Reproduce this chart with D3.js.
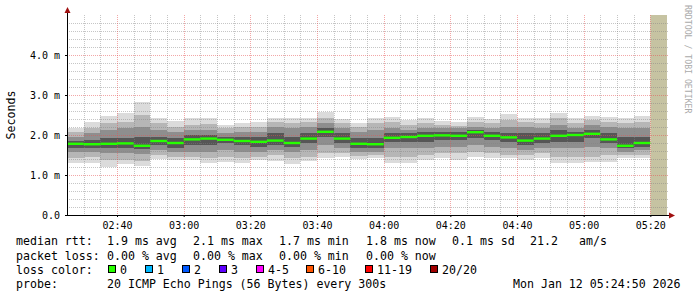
<!DOCTYPE html>
<html><head><meta charset="utf-8">
<script src="https://cdn.jsdelivr.net/npm/d3@7"></script>
<style>
html,body{margin:0;padding:0;background:#fff;}
svg{display:block;}
text{font-family:"DejaVu Sans Mono",monospace;fill:#000;}
</style></head>
<body>
<script>
// ---- data (ms) : one value per 5-minute step starting 02:25 ----
const startTime = new Date(2026, 0, 12, 2, 25);
const endTime = new Date(2026, 0, 12, 5, 25);
const stepMinutes = 5;
const maxVals = [2.17,2.33,2.47,2.54,2.82,2.42,2.35,2.42,2.42,2.25,2.29,2.33,2.43,2.42,2.43,2.58,2.40,2.29,2.43,2.46,2.38,2.42,2.35,2.32,2.45,2.40,2.52,2.43,2.42,2.54,2.42,2.48,2.46,2.43,2.48];
const p90Vals = [2.07,2.17,2.29,2.33,2.50,2.29,2.21,2.25,2.27,2.17,2.21,2.21,2.33,2.29,2.33,2.42,2.29,2.21,2.29,2.33,2.25,2.29,2.25,2.23,2.33,2.29,2.38,2.33,2.29,2.42,2.29,2.38,2.33,2.29,2.33];
const p75Vals = [1.96,2.04,2.12,2.17,2.21,2.12,2.08,2.12,2.12,2.04,2.08,2.08,2.21,2.17,2.21,2.29,2.17,2.08,2.12,2.17,2.12,2.17,2.17,2.17,2.21,2.17,2.21,2.21,2.17,2.25,2.17,2.25,2.21,2.17,2.17];
const p60Vals = [1.85,1.88,1.92,1.92,1.96,1.96,1.92,2.00,2.00,1.96,1.96,1.96,2.04,1.96,2.04,2.17,2.04,1.92,1.92,2.04,2.04,2.08,2.08,2.07,2.12,2.07,2.04,2.04,2.04,2.12,2.08,2.12,2.04,1.96,1.96];
const medianVals = [1.78,1.77,1.78,1.79,1.73,1.85,1.80,1.89,1.91,1.88,1.85,1.83,1.86,1.80,1.91,2.08,1.91,1.78,1.77,1.93,1.95,1.98,1.99,1.98,2.07,1.98,1.94,1.86,1.91,1.98,2.00,2.03,1.89,1.73,1.80];
const p40Vals = [1.67,1.68,1.67,1.67,1.65,1.75,1.67,1.75,1.75,1.79,1.75,1.71,1.75,1.71,1.79,1.96,1.79,1.67,1.67,1.83,1.83,1.83,1.88,1.88,1.92,1.88,1.83,1.75,1.79,1.83,1.83,1.92,1.79,1.67,1.71];
const p25Vals = [1.57,1.58,1.54,1.54,1.52,1.63,1.57,1.58,1.58,1.63,1.58,1.58,1.63,1.58,1.63,1.75,1.67,1.58,1.58,1.67,1.67,1.67,1.71,1.71,1.75,1.71,1.67,1.63,1.67,1.67,1.67,1.71,1.67,1.58,1.63];
const p10Vals = [1.43,1.46,1.37,1.37,1.35,1.50,1.46,1.46,1.42,1.46,1.43,1.46,1.50,1.42,1.46,1.54,1.54,1.48,1.50,1.46,1.46,1.50,1.54,1.54,1.58,1.54,1.50,1.50,1.54,1.46,1.46,1.46,1.50,1.50,1.50];
const minVals = [1.31,1.31,1.21,1.27,1.23,1.39,1.37,1.37,1.29,1.33,1.31,1.37,1.36,1.27,1.35,1.42,1.46,1.40,1.42,1.31,1.29,1.37,1.42,1.37,1.46,1.43,1.42,1.37,1.42,1.31,1.29,1.33,1.33,1.42,1.42];
const yTicks = [0,1,2,3,4];
const yTickLabels = ["0.0","1.0 m","2.0 m","3.0 m","4.0 m"];
const xTickTimes = ["02:40","03:00","03:20","03:40","04:00","04:20","04:40","05:00","05:20"];
const unknownStart = new Date(2026, 0, 12, 5, 20);

const legendRtt = [["median rtt:",16],["1.9 ms avg",107],["2.1 ms max",193],["1.7 ms min",279],["1.8 ms now",366],["0.1 ms sd",452],["21.2",530],["am/s",579]];
const legendLoss = [["packet loss:",16],["0.00 % avg",107],["0.00 % max",193],["0.00 % min",279],["0.00 % now",366]];
const lossLabels = ["0","1","2","3","4-5","6-10","11-19","20/20"];
const lossColors = ["#26ff00","#00b8ff","#0059ff","#5e00ff","#ff00ff","#ff5500","#ff0000","#a10000"];
const lossBoxX = [108,145,182,219,256,306,365,430];
const probeText = "20 ICMP Echo Pings (56 Bytes) every 300s";
const dateText = "Mon Jan 12 05:24:50 2026";

// ---- drawing ----
const W = 697, H = 297;
const svg = d3.select("body").append("svg").attr("width", W).attr("height", H);
const x = d3.scaleTime().domain([startTime, endTime]).range([67, 667]);
const y = d3.scaleLinear().domain([0, 5]).range([215, 15]);
const parseHM = d3.timeParse("%Y-%m-%d %H:%M");
const xTicks = xTickTimes.map(s => parseHM("2026-01-12 " + s));

const steps = medianVals.map((m, i) => {
  const t0 = d3.timeMinute.offset(startTime, i * stepMinutes);
  const t1 = d3.timeMinute.offset(startTime, (i + 1) * stepMinutes);
  return {t0, t1, i};
});

// unknown area
svg.append("rect").attr("x", x(unknownStart)).attr("y", y(5))
  .attr("width", x(endTime) - x(unknownStart)).attr("height", y(0) - y(5))
  .attr("fill", "#c6c3a2");

// smoke bands
const bands = [[minVals, maxVals, "#dbdbdb"], [p10Vals, p90Vals, "#b6b6b6"], [p25Vals, p75Vals, "#8e8e8e"], [p40Vals, p60Vals, "#565656"]];
bands.forEach(([lo, hi, col]) => {
  svg.append("g").selectAll("rect").data(steps).join("rect")
    .attr("x", d => x(d.t0)).attr("width", d => x(d.t1) - x(d.t0))
    .attr("y", d => y(hi[d.i])).attr("height", d => y(lo[d.i]) - y(hi[d.i]))
    .attr("fill", col).attr("shape-rendering", "crispEdges");
});

// grid (on top, translucent)
const gridG = svg.append("g");
const minorX = d3.timeMinute.every(5).range(d3.timeMinute.offset(startTime, 5), endTime);
gridG.selectAll(".vmin").data(minorX.filter(t => t.getMinutes() % 20 !== 0)).join("line")
  .attr("x1", d => Math.round(x(d)) + 0.5).attr("x2", d => Math.round(x(d)) + 0.5)
  .attr("y1", y(5)).attr("y2", y(0))
  .attr("stroke", "rgba(128,128,128,0.45)").attr("stroke-dasharray", "1,1");
const minorY = d3.range(1, 25).map(k => k * 0.2).filter(v => Math.abs(v - Math.round(v)) > 1e-6);
gridG.selectAll(".hmin").data(minorY).join("line")
  .attr("x1", 67).attr("x2", 669)
  .attr("y1", d => Math.round(y(d)) + 0.5).attr("y2", d => Math.round(y(d)) + 0.5)
  .attr("stroke", "rgba(128,128,128,0.45)").attr("stroke-dasharray", "1,1");
gridG.selectAll(".vmaj").data(xTicks).join("line")
  .attr("x1", d => Math.round(x(d)) + 0.5).attr("x2", d => Math.round(x(d)) + 0.5)
  .attr("y1", y(5)).attr("y2", y(0))
  .attr("stroke", "rgba(230,80,80,0.5)").attr("stroke-dasharray", "1,1");
gridG.selectAll(".hmaj").data(yTicks.filter(v => v > 0)).join("line")
  .attr("x1", 67).attr("x2", 669)
  .attr("y1", d => Math.round(y(d)) + 0.5).attr("y2", d => Math.round(y(d)) + 0.5)
  .attr("stroke", "rgba(230,80,80,0.5)").attr("stroke-dasharray", "1,1");

// median lines
svg.append("g").selectAll("line").data(steps).join("line")
  .attr("x1", d => x(d.t0)).attr("x2", d => x(d.t1))
  .attr("y1", d => y(medianVals[d.i])).attr("y2", d => y(medianVals[d.i]))
  .attr("stroke", lossColors[0]).attr("stroke-width", 2.4);

// axes
const xAxis = d3.axisBottom(x).tickValues(xTicks).tickFormat(d3.timeFormat("%H:%M")).tickSizeInner(2).tickSizeOuter(0).tickPadding(5);
const gx = svg.append("g").attr("transform", "translate(0,215)").call(xAxis);
gx.select(".domain").remove();
gx.selectAll("text").style("font-family", "DejaVu Sans Mono").style("font-size", "10px");
const yAxis = d3.axisLeft(y).tickValues(yTicks).tickFormat((d, i) => yTickLabels[i]).tickSizeInner(2).tickSizeOuter(0).tickPadding(5);
const gy = svg.append("g").attr("transform", "translate(67,0)").call(yAxis);
gy.select(".domain").remove();
gy.selectAll("text").style("font-family", "DejaVu Sans Mono").style("font-size", "10px");

svg.append("line").attr("x1", 67.5).attr("x2", 67.5).attr("y1", 12).attr("y2", 216).attr("stroke", "#000");
svg.append("line").attr("x1", 66).attr("x2", 670).attr("y1", 215.5).attr("y2", 215.5).attr("stroke", "#000");
svg.append("path").attr("d", "M64.5,13 L70.5,13 L67.5,7 Z").attr("fill", "#a01010");
svg.append("path").attr("d", "M669,212.5 L669,218.5 L675,215.5 Z").attr("fill", "#a01010");

// y title
svg.append("text").attr("transform", "translate(15,115) rotate(-90)").attr("text-anchor", "middle")
  .style("font-size", "11.6px").text("Seconds");
// watermark
svg.append("text").attr("transform", "translate(685,5) rotate(90)").attr("text-anchor", "start")
  .style("font-size", "8.2px").style("fill", "#aaaaaa").text("RRDTOOL / TOBI OETIKER");

// legend
const fs = "11.6px";
legendRtt.forEach(([t, px]) => svg.append("text").attr("x", px).attr("y", 245).style("font-size", fs).text(t));
legendLoss.forEach(([t, px]) => svg.append("text").attr("x", px).attr("y", 259.5).style("font-size", fs).text(t));
svg.append("text").attr("x", 16).attr("y", 273.5).style("font-size", fs).text("loss color:");
lossLabels.forEach((l, i) => {
  svg.append("rect").attr("x", lossBoxX[i] + 0.5).attr("y", 265.5).attr("width", 7).attr("height", 7)
    .attr("fill", lossColors[i]).attr("stroke", "#000").attr("stroke-width", 1);
  svg.append("text").attr("x", lossBoxX[i] + 12).attr("y", 273.5).style("font-size", fs).text(l);
});
svg.append("text").attr("x", 16).attr("y", 288).style("font-size", fs).text("probe:");
svg.append("text").attr("x", 107).attr("y", 288).style("font-size", fs).text(probeText);
svg.append("text").attr("x", 513).attr("y", 288).style("font-size", fs).text(dateText);
</script>
</body></html>
